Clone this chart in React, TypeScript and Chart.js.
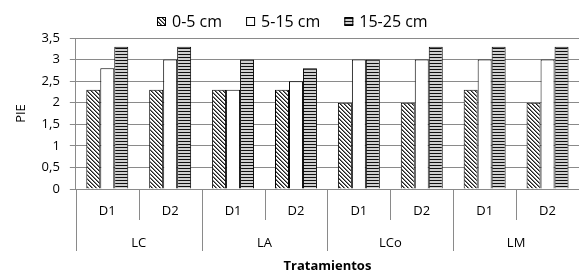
import React, { useEffect, useRef } from "react";
import { Chart, registerables } from "chart.js";

Chart.register(...registerables);

const groupLabels = ["LC", "LA", "LCo", "LM"];
const doseLabels = ["D1", "D2"];
const seriesNames = ["0-5 cm", "5-15 cm", "15-25 cm"];
const depth0to5 = [2.3, 2.3, 2.3, 2.3, 2.0, 2.0, 2.3, 2.0];
const depth5to15 = [2.8, 3.0, 2.3, 2.5, 3.0, 3.0, 3.0, 3.0];
const depth15to25 = [3.3, 3.3, 3.0, 2.8, 3.0, 3.3, 3.3, 3.3];
const yTicks = [0, 0.5, 1, 1.5, 2, 2.5, 3, 3.5];
const yTitle = "PIE";
const xTitle = "Tratamientos";

const FONT = "'Open Sans', sans-serif";
const GRID = "#8a8a8a";

function hatchPattern(): CanvasPattern | string {
  const c = document.createElement("canvas");
  c.width = 4;
  c.height = 4;
  const ctx = c.getContext("2d");
  if (!ctx) return "#888";
  ctx.fillStyle = "#ffffff";
  ctx.fillRect(0, 0, 4, 4);
  ctx.fillStyle = "#1e1e1e";
  for (let i = 0; i < 4; i++) ctx.fillRect(i, i, 1, 1);
  ctx.fillStyle = "#808080";
  for (let i = 0; i < 4; i++) ctx.fillRect((i + 1) % 4, i, 1, 1);
  return ctx.createPattern(c, "repeat") || "#888";
}

function stripePattern(): CanvasPattern | string {
  const c = document.createElement("canvas");
  c.width = 4;
  c.height = 3;
  const ctx = c.getContext("2d");
  if (!ctx) return "#888";
  ctx.fillStyle = "#d0d0d0";
  ctx.fillRect(0, 0, 4, 3);
  ctx.fillStyle = "#111111";
  ctx.fillRect(0, 0, 4, 1);
  return ctx.createPattern(c, "repeat") || "#888";
}

const legendPlugin = {
  id: "customLegend",
  afterDraw(chart: any) {
    const ctx = chart.ctx;
    const ds = chart.data.datasets;
    const box = 9;
    const gap = 6;
    const spacing = 24;
    ctx.save();
    ctx.font = `16px ${FONT}`;
    ctx.textBaseline = "middle";
    ctx.textAlign = "left";
    const widths = ds.map((d: any) => box + gap + ctx.measureText(d.label).width);
    const total = widths.reduce((a: number, b: number) => a + b, 0) + spacing * (ds.length - 1);
    let x = Math.round(chart.width / 2 + 2 - total / 2);
    const cy = 22;
    ds.forEach((d: any, i: number) => {
      ctx.fillStyle = d.backgroundColor;
      ctx.fillRect(x, cy - 5, box, box);
      ctx.strokeStyle = "#000";
      ctx.lineWidth = 1;
      ctx.strokeRect(x + 0.5, cy - 5 + 0.5, box - 1, box - 1);
      ctx.fillStyle = "#000";
      ctx.fillText(d.label, x + box + gap, cy);
      x += widths[i] + spacing;
    });
    ctx.restore();
  },
};

const categoryAxisPlugin = {
  id: "categoryAxis",
  afterDraw(chart: any) {
    const ctx = chart.ctx;
    const x = chart.scales.x;
    const area = chart.chartArea;
    const n = chart.data.labels.length;
    const p0 = x.getPixelForValue(0);
    const p1 = x.getPixelForValue(1);
    const half = (p1 - p0) / 2;
    const bottom = area.bottom;
    ctx.save();
    ctx.strokeStyle = GRID;
    ctx.lineWidth = 1;
    for (let i = 0; i < n; i++) {
      const bx = Math.round(x.getPixelForValue(i) - half) + 0.5;
      const len = i % doseLabels.length === 0 ? 62 : 31;
      ctx.beginPath();
      ctx.moveTo(bx, bottom);
      ctx.lineTo(bx, bottom + len);
      ctx.stroke();
    }
    ctx.fillStyle = "#000";
    ctx.textAlign = "center";
    ctx.textBaseline = "middle";
    ctx.font = `13px ${FONT}`;
    for (let i = 0; i < n; i++) {
      ctx.fillText(doseLabels[i % doseLabels.length], x.getPixelForValue(i), bottom + 22);
    }
    groupLabels.forEach((g, gi) => {
      const a = x.getPixelForValue(gi * doseLabels.length);
      const b = x.getPixelForValue(gi * doseLabels.length + doseLabels.length - 1);
      ctx.fillText(g, (a + b) / 2, bottom + 54);
    });
    ctx.font = `bold 13px ${FONT}`;
    ctx.fillText(xTitle, (area.left + area.right) / 2, bottom + 77);
    ctx.restore();
  },
};

export default function App() {
  const ref = useRef<HTMLCanvasElement | null>(null);
  useEffect(() => {
    if (!ref.current) return;
    const hatch = hatchPattern();
    const stripes = stripePattern();
    const labels = groupLabels.flatMap((g) => doseLabels.map((d) => `${g} ${d}`));
    const chart = new Chart(ref.current, {
      type: "bar",
      data: {
        labels,
        datasets: [
          { label: seriesNames[0], data: depth0to5, backgroundColor: hatch as any, borderColor: "#000", borderWidth: 1 },
          { label: seriesNames[1], data: depth5to15, backgroundColor: "#ffffff", borderColor: "#000", borderWidth: 1 },
          { label: seriesNames[2], data: depth15to25, backgroundColor: stripes as any, borderColor: "#000", borderWidth: 1 },
        ],
      },
      options: {
        responsive: false,
        animation: false,
        layout: { padding: { top: 38, right: 1, bottom: 83, left: 10 } },
        datasets: { bar: { categoryPercentage: 0.667, barPercentage: 1 } },
        plugins: {
          legend: { display: false },
          tooltip: { enabled: false },
        },
        scales: {
          x: { display: false, offset: true },
          y: {
            min: 0,
            max: 3.5,
            afterBuildTicks: (axis: any) => {
              axis.ticks = yTicks.map((v) => ({ value: v }));
            },
            ticks: {
              color: "#000",
              font: { family: FONT, size: 13 },
              padding: 10,
              callback: (v: any) => String(v).replace(".", ","),
            },
            grid: { color: GRID, tickLength: 6, drawTicks: true },
            border: { color: GRID },
            title: { display: true, text: yTitle, color: "#000", font: { family: FONT, size: 13 }, padding: 3 },
          },
        },
      },
      plugins: [categoryAxisPlugin, legendPlugin],
    });
    return () => chart.destroy();
  }, []);
  return (
    <div style={{ position: "fixed", left: 0, top: 0, width: 580, height: 272, background: "#fff" }}>
      <canvas ref={ref} width={580} height={272} />
    </div>
  );
}
